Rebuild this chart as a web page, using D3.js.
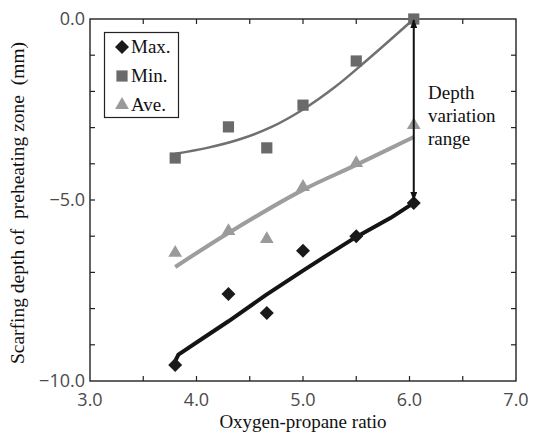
<!DOCTYPE html>
<html>
<head>
<meta charset="utf-8">
<script src="https://cdn.jsdelivr.net/npm/d3@7"></script>
<style>
  html, body { margin: 0; padding: 0; background: #fff; }
  svg { display: block; }
</style>
</head>
<body>
<svg id="chart" width="533" height="434"></svg>
<script>
// Oxygen-propane ratio for each scarfing trial
const ratios = [3.8, 4.3, 4.66, 5.0, 5.5, 6.04];
// Measured depths of the preheating zone (mm)
const maxDepth = [-9.56, -7.6, -8.12, -6.4, -6.0, -5.08];
const minDepth = [-3.84, -2.98, -3.56, -2.38, -1.16, 0.0];
const aveDepth = [-6.46, -5.86, -6.08, -4.64, -3.98, -2.93];

// Trend curves through each series: [ratio, depth]
const maxTrend = [[3.8, -9.45], [3.83, -9.27], [4.06, -8.82], [4.3, -8.35], [4.65, -7.63], [5.0, -6.95], [5.25, -6.48], [5.5, -6.02], [5.82, -5.5], [6.03, -5.1]];
const minTrend = [[3.8, -3.72], [4.1, -3.56], [4.4, -3.33], [4.7, -2.99], [5.0, -2.5], [5.3, -1.88], [5.6, -1.14], [6.04, 0.0]];
const aveTrend = [[3.8, -6.85], [4.3, -5.91], [5.0, -4.72], [5.5, -4.03], [6.04, -3.26]];

// Axis ticks
const xTickLabels = [3.0, 4.0, 5.0, 6.0, 7.0];
const xMinorTicks = [3.5, 4.0, 4.5, 5.0, 5.5, 6.0, 6.5];
const yTickLabels = [0.0, -5.0, -10.0];
const yMinorTicks = [-1, -2, -3, -4, -5, -6, -7, -8, -9];

// Range annotation
const rangeRatio = 6.04;
const rangeTop = 0.0;
const rangeBottom = -5.08;
const rangeLabel = ["Depth", "variation", "range"];

const legendItems = [
  { name: "Max.", shape: "diamond" },
  { name: "Min.", shape: "square" },
  { name: "Ave.", shape: "triangle" }
];

const colors = { diamond: "#1a1a1a", square: "#6a6a6a", triangle: "#9a9a9a" };

const svg = d3.select("#chart");
const plotLeft = 90, plotRight = 516, plotTop = 19, plotBottom = 381;

const x = d3.scaleLinear().domain([3, 7]).range([plotLeft, plotRight]);
const y = d3.scaleLinear().domain([-10, 0]).range([plotBottom, plotTop]);

const serif = "'Liberation Serif', 'Times New Roman', serif";
const sans = "'Open Sans', 'DejaVu Sans', sans-serif";

const symbolFor = {
  diamond: d3.symbol().type(d3.symbolDiamond2).size(125),
  square: d3.symbol().type(d3.symbolSquare2).size(160),
  triangle: d3.symbol().type(d3.symbolTriangle2).size(135)
};

// Inward tick marks
const tickLen = 5;
const ticks = svg.append("g").attr("stroke", "#222").attr("stroke-width", 1.2);
xMinorTicks.forEach(v => {
  ticks.append("line").attr("x1", x(v)).attr("x2", x(v)).attr("y1", plotBottom).attr("y2", plotBottom - tickLen);
  ticks.append("line").attr("x1", x(v)).attr("x2", x(v)).attr("y1", plotTop).attr("y2", plotTop + tickLen);
});
yMinorTicks.forEach(v => {
  ticks.append("line").attr("x1", plotLeft).attr("x2", plotLeft + tickLen).attr("y1", y(v)).attr("y2", y(v));
  ticks.append("line").attr("x1", plotRight).attr("x2", plotRight - tickLen).attr("y1", y(v)).attr("y2", y(v));
});

// Plot frame
svg.append("rect")
  .attr("x", plotLeft).attr("y", plotTop)
  .attr("width", plotRight - plotLeft).attr("height", plotBottom - plotTop)
  .attr("fill", "none").attr("stroke", "#222").attr("stroke-width", 1.4);

// Tick labels
svg.append("g").selectAll("text").data(xTickLabels).join("text")
  .attr("x", d => x(d)).attr("y", plotBottom + 25)
  .attr("text-anchor", "middle")
  .attr("font-family", sans).attr("font-size", 18).attr("fill", "#4a4a4a")
  .text(d => d.toFixed(1));

svg.append("g").selectAll("text").data(yTickLabels).join("text")
  .attr("x", plotLeft - 5).attr("y", d => y(d) + 6)
  .attr("text-anchor", "end")
  .attr("font-family", sans).attr("font-size", 18).attr("fill", "#4a4a4a")
  .text(d => (d < 0 ? "\u2212" + Math.abs(d).toFixed(1) : d.toFixed(1)));

// Axis titles
svg.append("text")
  .attr("x", (plotLeft + plotRight) / 2).attr("y", 428)
  .attr("text-anchor", "middle")
  .attr("font-family", serif).attr("font-size", 19).attr("fill", "#111")
  .text("Oxygen-propane ratio");

svg.append("text")
  .attr("transform", `translate(24, 203) rotate(-90)`)
  .attr("text-anchor", "middle")
  .attr("font-family", serif).attr("font-size", 19.5).attr("fill", "#111")
  .style("white-space", "pre")
  .text("Scarfing depth of  preheating zone  (mm)");

// Trend curves
const smooth = d3.line().x(d => x(d[0])).y(d => y(d[1])).curve(d3.curveCatmullRom.alpha(0.5));
const straight = d3.line().x(d => x(d[0])).y(d => y(d[1]));
svg.append("path").datum(minTrend).attr("d", smooth)
  .attr("fill", "none").attr("stroke", "#707070").attr("stroke-width", 2.5);
svg.append("path").datum(aveTrend).attr("d", smooth)
  .attr("fill", "none").attr("stroke", "#9d9d9d").attr("stroke-width", 4);
svg.append("path").datum(maxTrend).attr("d", straight)
  .attr("fill", "none").attr("stroke", "#141414").attr("stroke-width", 4)
  .attr("stroke-linejoin", "round").attr("stroke-linecap", "round");

// Data markers
function drawSeries(values, shape) {
  svg.append("g").selectAll("path").data(values).join("path")
    .attr("d", symbolFor[shape])
    .attr("transform", (d, i) => `translate(${x(ratios[i])},${y(d)})`)
    .attr("fill", colors[shape]);
}
drawSeries(minDepth, "square");
drawSeries(aveDepth, "triangle");
drawSeries(maxDepth, "diamond");

// Depth variation range arrow
const defs = svg.append("defs");
defs.append("marker")
  .attr("id", "arrowhead")
  .attr("viewBox", "0 0 10 10")
  .attr("refX", 9).attr("refY", 5)
  .attr("markerWidth", 9).attr("markerHeight", 7)
  .attr("markerUnits", "userSpaceOnUse")
  .attr("orient", "auto-start-reverse")
  .attr("preserveAspectRatio", "none")
  .append("path").attr("d", "M0,0 L10,5 L0,10 Z").attr("fill", "#111");

svg.append("line")
  .attr("x1", x(rangeRatio)).attr("x2", x(rangeRatio))
  .attr("y1", y(rangeTop) + 1).attr("y2", y(rangeBottom) - 3)
  .attr("stroke", "#111").attr("stroke-width", 2)
  .attr("marker-start", "url(#arrowhead)")
  .attr("marker-end", "url(#arrowhead)");

svg.append("g").selectAll("text").data(rangeLabel).join("text")
  .attr("x", 428).attr("y", (d, i) => 99 + i * 23)
  .attr("font-family", serif).attr("font-size", 19).attr("fill", "#111")
  .text(d => d);

// Legend
const legend = svg.append("g");
legend.append("rect")
  .attr("x", 104.5).attr("y", 32.5).attr("width", 74).attr("height", 85)
  .attr("fill", "#fff").attr("stroke", "#222").attr("stroke-width", 1.2);
legendItems.forEach((item, i) => {
  const cy = 47 + i * 29;
  legend.append("path")
    .attr("d", symbolFor[item.shape])
    .attr("transform", `translate(122,${cy})`)
    .attr("fill", colors[item.shape]);
  legend.append("text")
    .attr("x", 131).attr("y", cy + 6)
    .attr("font-family", serif).attr("font-size", 19).attr("fill", "#111")
    .text(item.name);
});
</script>
</body>
</html>
